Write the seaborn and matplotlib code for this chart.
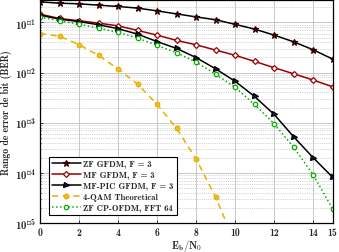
import numpy as np
import pandas as pd
import matplotlib
matplotlib.use('Agg')
import matplotlib.pyplot as plt
import seaborn as sns

# SNR axis (Eb/N0 in dB)
ebn0 = list(range(16))

# BER values
ber_zf_gfdm = [0.257, 0.242, 0.235, 0.221, 0.208, 0.193, 0.170, 0.148, 0.129,
               0.113, 0.0917, 0.0736, 0.0559, 0.0411, 0.0285, 0.0186]
ber_mf_gfdm = [0.146, 0.120, 0.108, 0.0969, 0.0855, 0.0693, 0.0558, 0.0438, 0.0358,
               0.0281, 0.0221, 0.0167, 0.0125, 0.00947, 0.00709, 0.00521]
ber_mfpic_gfdm = [0.140, 0.116, 0.104, 0.090, 0.075, 0.0585, 0.0415, 0.0303, 0.0199,
                  0.0119, 0.00671, 0.00333, 0.00147, 5.26e-4, 2.01e-4, 8.17e-5]
ber_qam_theory = [0.060, 0.053, 0.036, 0.022, 0.0118, 0.0059, 0.00232, 7.7e-4, 1.9e-4,
                  3.3e-5, 3.9e-6]
ber_zf_ofdm = [0.128, 0.108, 0.0925, 0.0769, 0.0632, 0.0487, 0.0348, 0.0248, 0.0162,
               0.00933, 0.00507, 0.00231, 9.55e-4, 3.24e-4, 9.2e-5, 1.91e-5]

labels = ['ZF GFDM, F = 3', 'MF GFDM, F = 3', 'MF-PIC GFDM, F = 3',
          '4-QAM Theoretical', 'ZF CP-OFDM, FFT 64']

sns.set_style('ticks')
plt.rcParams['font.family'] = ['cmb10', 'cmr10', 'DejaVu Serif']
plt.rcParams['mathtext.fontset'] = 'cm'
plt.rcParams['axes.formatter.use_mathtext'] = True

fig = plt.figure(figsize=(3.39, 2.53), dpi=100)
ax = fig.add_axes([0.118, 0.115, 0.863, 0.881])

series = [
    (ber_zf_gfdm, dict(color='black', marker='*', markersize=4.8, markerfacecolor='#4a0a0a',
                       markeredgecolor='#300000', linestyle='-')),
    (ber_mf_gfdm, dict(color='#990000', marker='D', markersize=3.0, markerfacecolor='white',
                       markeredgecolor='#990000', linestyle='-')),
    (ber_mfpic_gfdm, dict(color='black', marker='>', markersize=3.6, markerfacecolor='#1a1a3a',
                          markeredgecolor='black', linestyle='-')),
    (ber_qam_theory, dict(color='#e6b000', marker='h', markersize=3.6, markerfacecolor='#f0c020',
                          markeredgecolor='#e6b000', linestyle=(0, (4, 3)))),
    (ber_zf_ofdm, dict(color='#00b000', marker='o', markersize=3.2, markerfacecolor='white',
                       markeredgecolor='#00b000', linestyle=':')),
]

for (vals, style), lab in zip(series, labels):
    d = pd.DataFrame({'x': ebn0[:len(vals)], 'y': vals})
    sns.lineplot(data=d, x='x', y='y', ax=ax, label=lab, linewidth=1.1,
                 markeredgewidth=0.9, **style)

ax.set_yscale('log')
ax.set_xlim(0, 15)
ax.set_ylim(1e-5, 0.28)
ax.set_xticks([0, 2, 4, 6, 8, 10, 12, 14, 15])
ax.set_xticklabels(['0', '2', '4', '6', '8', '10', '12', '14', '15'])

ax.grid(True, which='major', color='#c8c8c8', linewidth=0.7, linestyle='-')
ax.grid(True, which='minor', axis='y', color='#b0b0b0', linewidth=0.5, linestyle=':')
ax.set_axisbelow(True)

ax.tick_params(which='both', direction='in', labelsize=7, length=2, width=0.6, pad=3)
ax.tick_params(axis='y', which='major', labelsize=7.8)
ax.tick_params(which='minor', length=1)
for s in ax.spines.values():
    s.set_linewidth(0.9)
    s.set_color('black')

ax.set_xlabel(r'$\mathbf{E_b/N_0}$', fontsize=7.5, labelpad=0)
ax.set_ylabel('Rango de error de bit (BER)', fontsize=7, labelpad=2)

leg = ax.legend(loc='lower left', bbox_to_anchor=(0.03, 0.035), borderaxespad=0,
                fontsize=6.3, handlelength=3.3, labelspacing=0.33, handletextpad=0.3,
                borderpad=0.35, fancybox=False, framealpha=1, edgecolor='black')
leg.get_frame().set_linewidth(0.8)

fig.savefig('out.png', dpi=100)
